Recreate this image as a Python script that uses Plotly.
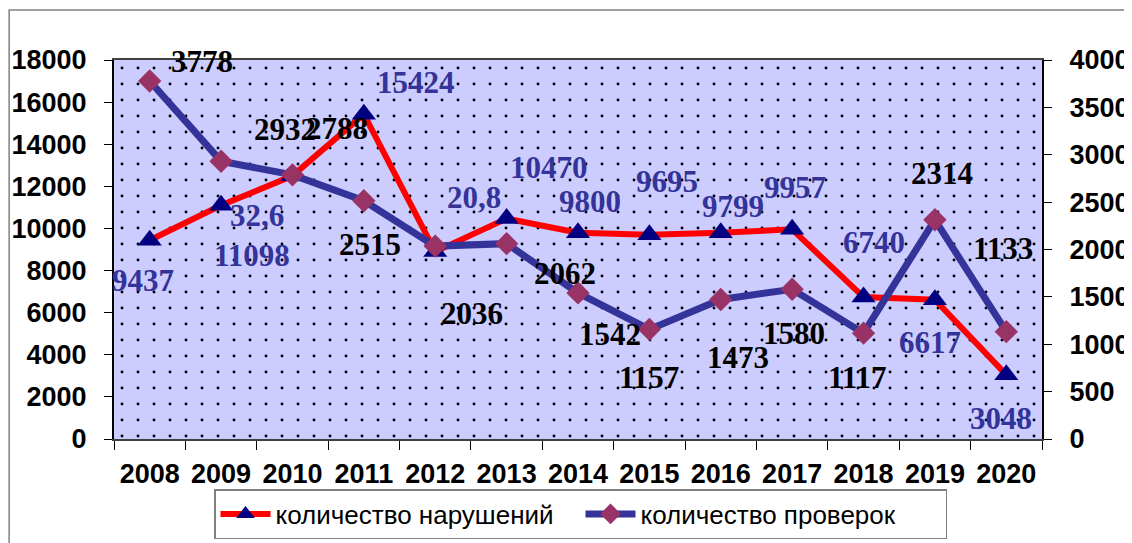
import plotly.graph_objects as go

years = [2008, 2009, 2010, 2011, 2012, 2013, 2014, 2015, 2016, 2017, 2018, 2019, 2020]
year_labels = [str(y) for y in years]

# количество нарушений (left axis)
violations = [9437, 11098, 12500, 15424, 8900, 10470, 9800, 9695, 9799, 9957, 6740, 6617, 3048]
violation_labels = ["9437", "11098", "32,6", "15424", "20,8", "10470", "9800", "9695", "9799", "9957", "6740", "6617", "3048"]

# количество проверок (right axis)
inspections = [3778, 2932, 2788, 2515, 2036, 2062, 1542, 1157, 1473, 1580, 1117, 2314, 1133]
inspection_labels = [str(v) for v in inspections]

left_max, right_max = 18000, 4000

# label offsets (pixels, dx right, dy down) as they appear in the original
viol_off = [(-7, 40), (31, 50), (-35, 40), (52, -32), (39, -54), (42, -51), (12, -31),
            (18, -53), (12, -26), (3, -42), (10, -55), (-5, 43), (-5, 44)]
insp_off = [(52, -20), (64, -32), (45, -46), (6, 44), (37, 67), (58, 30), (32, 42),
            (0, 48), (17, 58), (2, 44), (-6, 44), (7, -46), (-3, -83)]

fig = go.Figure()

# dotted plot-area background
x_lo, x_hi = years[0] - 0.5, years[-1] + 0.5
fig.add_trace(go.Scatter(
    x=[x_lo, x_hi, x_hi, x_lo, x_lo], y=[0, 0, left_max, left_max, 0],
    mode="lines", line=dict(width=0), fill="toself", fillcolor="#CCCCFF",
    fillpattern=dict(shape=".", fgcolor="black", bgcolor="#CCCCFF", size=16, solidity=0.025, fillmode="replace"),
    hoverinfo="skip", showlegend=False))

fig.add_trace(go.Scatter(
    x=years, y=violations, name="количество нарушений", mode="lines+markers",
    line=dict(color="#FF0000", width=6),
    marker=dict(symbol="triangle-up", size=21, color="#000080"),
    yaxis="y"))

fig.add_trace(go.Scatter(
    x=years, y=inspections, name="количество проверок", mode="lines+markers",
    line=dict(color="#333399", width=7),
    marker=dict(symbol="diamond", size=18, color="#993366"),
    yaxis="y2"))

annotations = []
for yr, v, t, (dx, dy) in zip(years, violations, violation_labels, viol_off):
    annotations.append(dict(x=yr, y=v, xref="x", yref="y", text=t, showarrow=False,
                            xshift=dx, yshift=-dy,
                            font=dict(family="Liberation Serif", size=31, color="#333399", weight="bold")))
for yr, v, t, (dx, dy) in zip(years, inspections, inspection_labels, insp_off):
    annotations.append(dict(x=yr, y=v, xref="x", yref="y2", text=t, showarrow=False,
                            xshift=dx, yshift=-dy,
                            font=dict(family="Liberation Serif", size=31, color="black", weight="bold")))

axis_font = dict(family="Liberation Sans", size=27, color="black", weight="bold")

W, H = 1124, 535

fig.update_layout(
    width=W, height=H,
    margin=dict(l=106, r=90, t=52, b=104, autoexpand=False),
    paper_bgcolor="white", plot_bgcolor="#CCCCFF",
    font=dict(family="Liberation Sans"),
    xaxis=dict(range=[x_lo, x_hi], tickmode="array", tickvals=years, ticktext=year_labels,
               ticks="", showgrid=False, zeroline=False, automargin=False,
               showline=True, linecolor="#404040", linewidth=2, mirror=True,
               tickfont=axis_font, ticklabelstandoff=10,
               minor=dict(tick0=x_lo, dtick=1, ticks="outside", ticklen=9, tickcolor="black", tickwidth=1, showgrid=False)),
    yaxis=dict(range=[0, left_max], dtick=2000, tickformat="d", ticks="outside", ticklen=8, tickcolor="black",
               showgrid=False, zeroline=False, showline=True, linecolor="black", linewidth=2, automargin=False,
               tickfont=axis_font, ticklabelstandoff=12),
    yaxis2=dict(range=[0, right_max], dtick=500, tickformat="d", overlaying="y", side="right",
                ticks="outside", ticklen=8, tickcolor="black", automargin=False,
                showgrid=False, zeroline=False, showline=True, linecolor="black", linewidth=2,
                tickfont=axis_font, ticklabelstandoff=12),
    legend=dict(orientation="h", x=572.5 / W, xanchor="center", xref="container",
                y=1 - 481 / H, yanchor="top", yref="container",
                itemwidth=50, entrywidth=300, entrywidthmode="pixels",
                bordercolor="#808080", borderwidth=1.5, bgcolor="white",
                font=dict(family="Liberation Sans", size=26, color="black")),
    annotations=annotations,
    shapes=[dict(type="rect", xref="paper", yref="paper", x0=-0.113, x1=1.0905, y0=-0.6, y1=1.132,
                 line=dict(color="#808080", width=1.5), layer="below")],
    showlegend=True,
)

fig.write_html("out.html")
